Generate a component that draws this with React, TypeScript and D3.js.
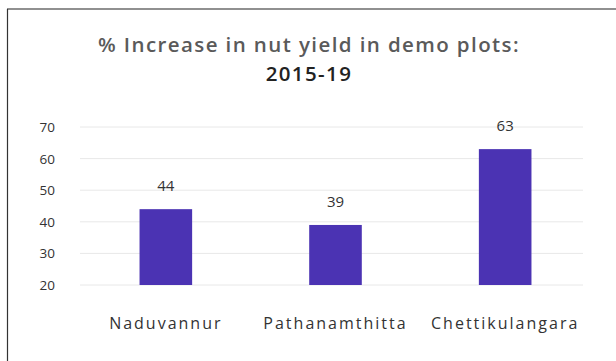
import React from "react";
import * as d3 from "d3";

const categories = ["Naduvannur", "Pathanamthitta", "Chettikulangara"];
const values = [44, 39, 63];
const yTicks = [20, 30, 40, 50, 60, 70];
const titleLines = ["% Increase in nut yield in demo plots:", "2015-19"];

export default function App() {
  const W = 616, H = 361;
  const x = d3.scaleBand<string>().domain(categories).range([81, 590]).paddingInner(0.69).paddingOuter(0.345);
  const y = d3.scaleLinear().domain([20, 70]).range([285, 127]);
  const font = "'Open Sans', 'DejaVu Sans', sans-serif";
  return (
    <svg width={W} height={H} style={{ position: "absolute", left: 0, top: 0, background: "#fff" }}>
      <line x1={7} y1={9} x2={W} y2={9} stroke="#222" strokeWidth={1.2} />
      <line x1={7.5} y1={9} x2={7.5} y2={H} stroke="#333" strokeWidth={1.2} />
      {titleLines.map((t, i) => (
        <text key={i} x={309} y={52 + i * 29} textAnchor="middle" fontFamily={font} fontWeight={600} fontSize={20.5} letterSpacing={1.4} fill={i === 0 ? "#5a5a5a" : "#222"}>
          {t}
        </text>
      ))}
      {yTicks.map((t) => (
        <g key={t}>
          <line x1={80} x2={583} y1={y(t)} y2={y(t)} stroke="#e8e8e8" strokeWidth={1} />
          <text x={55} y={y(t) + 5} textAnchor="end" fontFamily={font} fontSize={13.5} fill="#333">
            {t}
          </text>
        </g>
      ))}
      {categories.map((c, i) => (
        <g key={c}>
          <rect x={x(c)} y={y(values[i])} width={x.bandwidth()} height={y(20) - y(values[i])} fill="#4b33b3" />
          <text x={(x(c) ?? 0) + x.bandwidth() / 2} y={y(values[i]) - 18} textAnchor="middle" fontFamily={font} fontSize={15} fill="#333">
            {values[i]}
          </text>
          <text x={(x(c) ?? 0) + x.bandwidth() / 2} y={329} textAnchor="middle" fontFamily={font} fontSize={16} letterSpacing={2} fill="#333">
            {c}
          </text>
        </g>
      ))}
    </svg>
  );
}
